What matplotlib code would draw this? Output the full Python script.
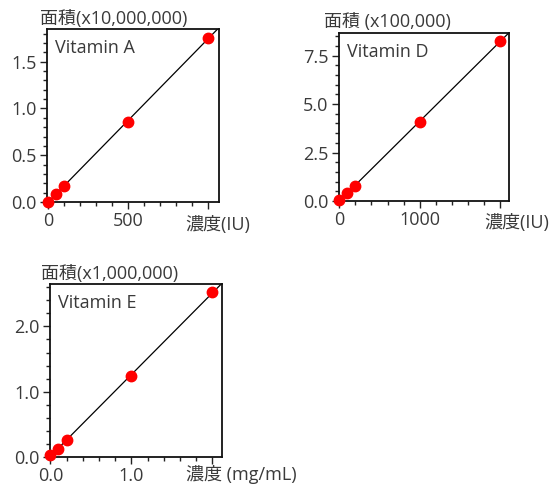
import numpy as np
import matplotlib
matplotlib.use("Agg")
import matplotlib.pyplot as plt
from matplotlib.ticker import MultipleLocator

plt.rcParams['font.family'] = ['Open Sans', 'Noto Sans CJK JP', 'DejaVu Sans']

# ---- data ----
names = ["Vitamin A", "Vitamin D", "Vitamin E"]
a_x = [0, 50, 100, 500, 1000]
a_y = [0.005, 0.085, 0.17, 0.855, 1.75]
d_x = [0, 100, 200, 1000, 2000]
d_y = [0.05, 0.43, 0.79, 4.06, 8.24]
e_x = [0, 0.1, 0.2, 1.0, 2.0]
e_y = [0.03, 0.13, 0.26, 1.245, 2.52]

ylabels = ["面積(x10,000,000)", "面積 (x100,000)", "面積(x1,000,000)"]
xlabels = ["濃度(IU)", "濃度(IU)", "濃度 (mg/mL)"]
xticks_list = [[0, 500, 1000], [0, 1000, 2000], [0, 1.0, 2.0]]
xticklabels_list = [["0", "500", ""], ["0", "1000", ""], ["0.0", "1.0", ""]]
yticks_list = [[0, 0.5, 1.0, 1.5], [0, 2.5, 5.0, 7.5], [0, 1.0, 2.0]]
yticklabels_list = [["0.0", "0.5", "1.0", "1.5"], ["0.0", "2.5", "5.0", "7.5"], ["0.0", "1.0", "2.0"]]
xminor = [100, 200, 0.2]
yminor = [0.1, 0.5, 0.2]
xlims = [(-6, 1070), (-5, 2115), (-0.005, 2.12)]
ylims = [(0, 1.85), (0, 8.67), (0, 2.65)]

W, H = 549, 487
fig = plt.figure(figsize=(W / 100, H / 100), dpi=100)

# axes boxes in pixels: left, right, top, bottom
boxes = [(47, 219, 29, 202), (339, 509, 33, 201), (50, 222, 284, 457)]
ylab_pos = [(40, 19), (324, 22), (41, 274)]
xlab_pos = [(250, 225), (549, 223), (297, 475)]

TXT = "#3a3a3a"
FS = 13

datasets = [(a_x, a_y), (d_x, d_y), (e_x, e_y)]
for i, (xs, ys) in enumerate(datasets):
    l, r, t, b = boxes[i]
    ax = fig.add_axes([l / W, (H - b) / H, (r - l) / W, (b - t) / H])
    ax.set_xlim(*xlims[i])
    ax.set_ylim(*ylims[i])
    slope, icpt = np.polyfit(xs, ys, 1)
    xx = np.array([0, xlims[i][1]])
    ax.plot(xx, slope * xx + icpt, color="black", lw=0.9, zorder=2)
    ax.plot(xs, ys, "o", color="#ff0000", ms=7.5, mec="#ff0000", zorder=3, clip_on=False)
    ax.set_xticks(xticks_list[i])
    ax.set_xticklabels(xticklabels_list[i])
    ax.set_yticks(yticks_list[i])
    ax.set_yticklabels(yticklabels_list[i])
    ax.xaxis.set_minor_locator(MultipleLocator(xminor[i]))
    ax.yaxis.set_minor_locator(MultipleLocator(yminor[i]))
    ax.tick_params(which="major", direction="out", length=5, width=1, labelsize=FS,
                   labelcolor=TXT, color="#222222", pad=2.5)
    ax.tick_params(which="minor", direction="out", length=3, width=1, color="#222222")
    for s in ax.spines.values():
        s.set_linewidth(1.3)
        s.set_color("#111111")
    ax.text(0.045, 0.94, names[i], transform=ax.transAxes, fontsize=FS, color=TXT,
            ha="left", va="top")
    fig.text(ylab_pos[i][0] / W, 1 - ylab_pos[i][1] / H, ylabels[i], fontsize=FS,
             color=TXT, ha="left", va="center")
    fig.text(xlab_pos[i][0] / W, 1 - xlab_pos[i][1] / H, xlabels[i], fontsize=FS,
             color=TXT, ha="right", va="center")

fig.savefig("out.png", dpi=100, facecolor="white")
